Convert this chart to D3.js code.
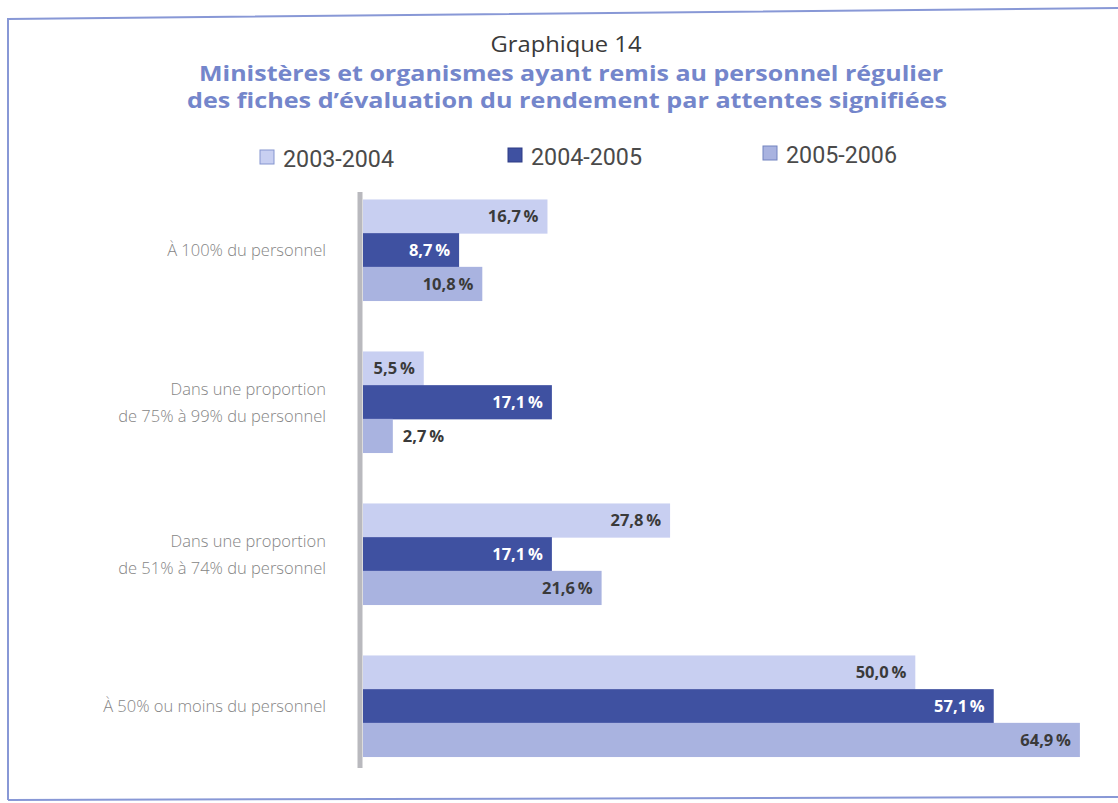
<!DOCTYPE html>
<html><head><meta charset="utf-8">
<script src="https://cdn.jsdelivr.net/npm/d3@7"></script>
<style>body{margin:0;background:#fff}</style>
</head><body>
<svg id="c" width="1118" height="803"></svg>
<script>
const categories = ["À 100% du personnel", "Dans une proportion|de 75% à 99% du personnel", "Dans une proportion|de 51% à 74% du personnel", "À 50% ou moins du personnel"];
const series = ["2003-2004", "2004-2005", "2005-2006"];
const v2003 = [16.7, 5.5, 27.8, 50.0];
const v2004 = [8.7, 17.1, 17.1, 57.1];
const v2005 = [10.8, 2.7, 21.6, 64.9];
const values = [v2003, v2004, v2005];
const colors = ["#c8cff1", "#3f51a1", "#a9b3e0"];
const swatchStroke = ["#8595cf", "#2e3d85", "#7383c0"];
const labelColors = ["#3a3a3a", "#ffffff", "#3a3a3a"];

const svg = d3.select("#c");
// frame
svg.append("path").attr("d","M8,800 L8,19 L1118,8").attr("fill","none").attr("stroke","#8898d6").attr("stroke-width",2);
svg.append("path").attr("d","M8,800 L1118,797").attr("fill","none").attr("stroke","#8898d6").attr("stroke-width",2);

// titles
svg.append("text").attr("x",566).attr("y",52).attr("text-anchor","middle")
  .attr("font-family","Open Sans, sans-serif").attr("font-size",22).attr("fill","#3a3a3a")
  .attr("textLength",151).attr("lengthAdjust","spacingAndGlyphs").text("Graphique 14");
svg.append("text").attr("x",571).attr("y",81).attr("text-anchor","middle")
  .attr("font-family","Open Sans, sans-serif").attr("font-weight","bold").attr("font-size",22).attr("fill","#7486cb")
  .attr("textLength",744).attr("lengthAdjust","spacingAndGlyphs").text("Ministères et organismes ayant remis au personnel régulier");
svg.append("text").attr("x",567).attr("y",108).attr("text-anchor","middle")
  .attr("font-family","Open Sans, sans-serif").attr("font-weight","bold").attr("font-size",22).attr("fill","#7486cb")
  .attr("textLength",760).attr("lengthAdjust","spacingAndGlyphs").text("des fiches d’évaluation du rendement par attentes signifiées");

// legend
const legX = [260, 508, 763];
const legY = [150, 148, 146];
series.forEach((s,i)=>{
  svg.append("rect").attr("x",legX[i]).attr("y",legY[i]).attr("width",14).attr("height",14)
    .attr("fill",colors[i]).attr("stroke",swatchStroke[i]).attr("stroke-width",1);
  svg.append("text").attr("x",legX[i]+23).attr("y",legY[i]+17)
    .attr("font-family","Roboto, sans-serif").attr("font-size",24).attr("fill","#4a4a4a")
    .attr("textLength",111).attr("lengthAdjust","spacingAndGlyphs").text(s);
});

// scales
const x = d3.scaleLinear().domain([0,65]).range([363,1081]);
const y0 = d3.scaleBand().domain(categories).range([174,782]).paddingInner(0.335).paddingOuter(0.1675);
const y1 = d3.scaleBand().domain(series).range([0,y0.bandwidth()]);

const fmt = v => d3.format(".1f")(v).replace(".",",") + "\u2009%";

categories.forEach((c,ci)=>{
  const g = svg.append("g").attr("transform",`translate(0,${y0(c)})`);
  series.forEach((s,si)=>{
    const v = values[si][ci];
    const bw = x(v)-x(0);
    g.append("rect").attr("x",x(0)).attr("y",y1(s)).attr("width",bw).attr("height",y1.bandwidth()+0.5)
      .attr("fill",colors[si]);
    const t = g.append("text").attr("y",y1(s)+y1.bandwidth()/2+6)
      .attr("font-family","Open Sans, sans-serif").attr("font-weight","bold").attr("font-size",16.5)
      .attr("fill",labelColors[si]).text(fmt(v));
    if (bw > 55) t.attr("x",x(v)-9).attr("text-anchor","end");
    else t.attr("x",x(v)+10).attr("text-anchor","start").attr("fill","#3a3a3a");
  });
  // category label
  const lines = c.split("|");
  const cy = y0(c)+y0.bandwidth()/2;
  lines.forEach((ln,li)=>{
    svg.append("text").attr("x",326).attr("y",cy + 6 + (li-(lines.length-1)/2)*27)
      .attr("text-anchor","end").attr("font-family","Open Sans, sans-serif").attr("font-weight",300)
      .attr("font-size",16.5).attr("fill","#858585").text(ln);
  });
});

// axis bar
svg.append("line").attr("x1",360).attr("x2",360).attr("y1",192).attr("y2",768)
  .attr("stroke","#b9b9be").attr("stroke-width",5);
</script>
</body></html>
